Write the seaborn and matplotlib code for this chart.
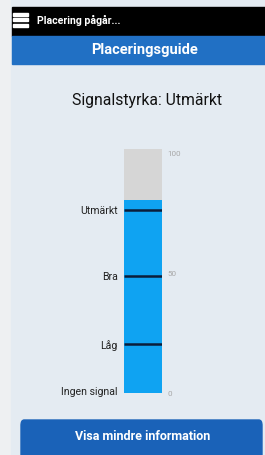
import matplotlib
matplotlib.use("Agg")
import matplotlib.pyplot as plt
from matplotlib.patches import Rectangle, FancyBboxPatch
import seaborn as sns
import pandas as pd

# gauge data
signal_value = 79
scale_max = 100
level_names = ["Ingen signal", "Låg", "Bra", "Utmärkt"]
level_values = [1, 20, 48, 75]
line_values = [20, 48, 75]
scale_ticks = [0, 50, 100]
scale_labels = ["0", "50", "100"]

status_text = "Placering pågår..."
header_text = "Placeringsguide"
title_text = "Signalstyrka: Utmärkt"
button_text = "Visa mindre information"

sns.set_style("white")
plt.rcParams["font.family"] = ["Roboto", "DejaVu Sans"]

W, H = 265, 455
fig = plt.figure(figsize=(W / 100, H / 100), dpi=100)
fig.patch.set_facecolor("#eef0f2")


def box(x0, y0, x1, y1, color, z=-2):
    fig.patches.append(Rectangle((x0 / W, 1 - y1 / H), (x1 - x0) / W, (y1 - y0) / H,
                                 transform=fig.transFigure, color=color, zorder=z))


def txt(x, y, s, **kw):
    fig.text(x / W, 1 - y / H, s, **kw)


# app background, status bar, header
box(11, 0, W, H, "#e4ebf2")
box(11.5, 7, W, 36, "#000000")
box(11.5, 36, W, 64, "#2170c4")

# hamburger icon
for yy in (14, 19.5, 25):
    box(13, yy - 1.5, 28, yy + 1.5, "#ffffff", z=-1)
txt(37, 20, status_text, color="white", fontsize=7.6, fontweight="bold", va="center")
txt(144, 50, header_text, color="white", fontsize=10.5, fontweight="bold",
    ha="center", va="center")
txt(147, 100, title_text, color="#111111", fontsize=11.3, ha="center", va="center")

# button
fig.patches.append(FancyBboxPatch((21 / W, 1 - 460 / H), (262 - 21) / W, (460 - 420) / H,
                                  boxstyle="round,pad=0,rounding_size=0.012",
                                  transform=fig.transFigure, color="#1a62b8", zorder=-1))
txt(143, 437, button_text, color="white", fontsize=9, fontweight="bold",
    ha="center", va="center")

# gauge axes
bx0, bx1, by0, by1 = 124, 162, 149, 393
ax = fig.add_axes([bx0 / W, 1 - by1 / H, (bx1 - bx0) / W, (by1 - by0) / H])
ax.set_zorder(5)
ax.set_facecolor("none")
df = pd.DataFrame({"k": ["signal"], "max": [scale_max], "val": [signal_value]})
sns.barplot(data=df, x="k", y="max", color="#d6d6d6", width=1, saturation=1,
            linewidth=0, ax=ax)
sns.barplot(data=df, x="k", y="val", color="#0fa3f2", width=1, saturation=1,
            linewidth=0, ax=ax)
ax.hlines(line_values, -0.5, 0.5, color="#0b1d3a", linewidth=1.8, zorder=5)
ax.set_xlim(-0.5, 0.5)
ax.set_ylim(0, scale_max)
ax.set_xticks([])
ax.set_xlabel("")
ax.set_ylabel("")
ax.set_yticks(level_values, level_names)
ax.tick_params(axis="y", length=0, pad=4.5, labelsize=7.6, labelcolor="#222222")
for s in ax.spines.values():
    s.set_visible(False)

ax2 = ax.twinx()
ax2.set_zorder(6)
ax2.set_ylim(0, scale_max)
ax2.set_yticks([t - 2 for t in scale_ticks], scale_labels)
ax2.tick_params(axis="y", length=0, pad=4, labelsize=5.8, labelcolor="#a8a8a8")
for s in ax2.spines.values():
    s.set_visible(False)

fig.savefig("out.png", dpi=100, facecolor=fig.get_facecolor())
